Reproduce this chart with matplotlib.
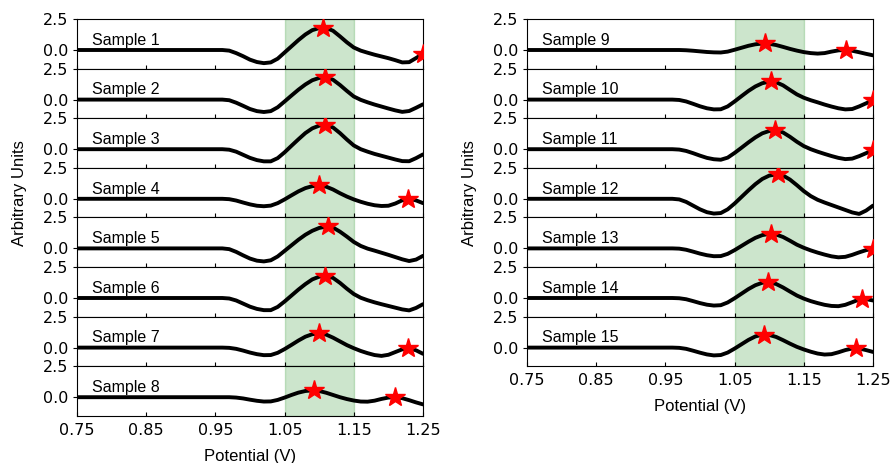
import numpy as np
import matplotlib.pyplot as plt

# potential grid (V)
potential = [0.75, 0.95, 0.96, 0.97, 0.98, 0.99, 1.00, 1.01, 1.02, 1.03, 1.04,
             1.05, 1.06, 1.07, 1.08, 1.09, 1.10, 1.11, 1.12, 1.13, 1.14,
             1.15, 1.16, 1.17, 1.18, 1.19, 1.20, 1.21, 1.22, 1.23, 1.24, 1.25]

s1 = [0, 0, 0, -0.05, -0.25, -0.5, -0.78, -0.97, -1.06, -1.0, -0.7, -0.2, 0.3, 0.8, 1.25, 1.6, 1.77, 1.78, 1.55, 1.1, 0.62,
      0.2, -0.05, -0.22, -0.38, -0.52, -0.66, -0.82, -1.0, -0.98, -0.65, -0.3]
s2 = [0, 0, 0, -0.05, -0.25, -0.5, -0.76, -0.93, -1.0, -0.93, -0.62, -0.15, 0.33, 0.8, 1.22, 1.56, 1.75, 1.79, 1.6, 1.18, 0.7,
      0.25, -0.02, -0.22, -0.4, -0.56, -0.72, -0.87, -0.99, -0.92, -0.66, -0.38]
s3 = [0, 0, 0, -0.04, -0.2, -0.45, -0.7, -0.88, -0.98, -0.98, -0.72, -0.25, 0.28, 0.8, 1.3, 1.68, 1.9, 1.95, 1.75, 1.3, 0.78,
      0.3, 0.0, -0.2, -0.38, -0.53, -0.68, -0.83, -0.96, -0.97, -0.72, -0.42]
s4 = [0, 0, 0, -0.03, -0.14, -0.3, -0.45, -0.56, -0.6, -0.55, -0.35, -0.05, 0.28, 0.6, 0.86, 1.02, 1.07, 0.98, 0.75, 0.45, 0.18,
      -0.05, -0.24, -0.4, -0.52, -0.58, -0.56, -0.38, -0.12, 0.0, -0.13, -0.35]
s5 = [0, 0, 0, -0.06, -0.28, -0.56, -0.82, -0.99, -1.05, -0.96, -0.65, -0.2, 0.25, 0.7, 1.1, 1.42, 1.65, 1.76, 1.68, 1.35, 0.95,
      0.52, 0.2, -0.02, -0.18, -0.35, -0.52, -0.7, -0.88, -1.02, -0.9, -0.6]
s6 = [0, 0, 0, -0.04, -0.2, -0.45, -0.7, -0.88, -0.98, -0.98, -0.72, -0.28, 0.2, 0.68, 1.12, 1.5, 1.72, 1.79, 1.62, 1.22, 0.75,
      0.32, 0.02, -0.18, -0.35, -0.5, -0.64, -0.78, -0.92, -1.0, -0.8, -0.5]
s7 = [0, 0, 0, -0.02, -0.1, -0.24, -0.4, -0.53, -0.61, -0.6, -0.42, -0.12, 0.22, 0.57, 0.88, 1.08, 1.15, 1.05, 0.8, 0.5, 0.2,
      -0.05, -0.27, -0.45, -0.6, -0.67, -0.58, -0.36, -0.14, -0.05, -0.22, -0.5]
s8 = [0, 0, 0, 0, -0.03, -0.1, -0.2, -0.29, -0.35, -0.34, -0.22, -0.03, 0.18, 0.37, 0.5, 0.55, 0.5, 0.36, 0.18, 0.0, -0.15,
      -0.27, -0.35, -0.36, -0.28, -0.14, -0.03, 0.0, -0.08, -0.24, -0.42, -0.58]
s9 = [0, 0, 0, 0, -0.02, -0.06, -0.11, -0.16, -0.19, -0.2, -0.13, 0.02, 0.18, 0.34, 0.46, 0.52, 0.5, 0.4, 0.25, 0.09, -0.05,
      -0.17, -0.25, -0.29, -0.25, -0.13, -0.03, 0.0, -0.06, -0.18, -0.31, -0.43]
s10 = [0, 0, 0, -0.03, -0.15, -0.34, -0.54, -0.7, -0.79, -0.78, -0.55, -0.15, 0.28, 0.7, 1.06, 1.32, 1.45, 1.4, 1.15, 0.78, 0.42,
       0.15, -0.05, -0.22, -0.4, -0.56, -0.7, -0.79, -0.76, -0.55, -0.3, -0.05]
s11 = [0, 0, 0, -0.03, -0.14, -0.32, -0.52, -0.7, -0.81, -0.85, -0.68, -0.3, 0.12, 0.55, 0.95, 1.28, 1.47, 1.52, 1.35, 1.0, 0.6,
       0.25, 0.0, -0.2, -0.38, -0.55, -0.7, -0.8, -0.76, -0.56, -0.32, -0.08]
s12 = [0, 0, 0, -0.05, -0.25, -0.55, -0.85, -1.08, -1.19, -1.15, -0.85, -0.38, 0.15, 0.68, 1.18, 1.6, 1.87, 1.97, 1.88, 1.55, 1.1,
       0.62, 0.22, -0.08, -0.3, -0.5, -0.7, -0.9, -1.1, -1.22, -0.95, -0.55]
s13 = [0, 0, 0, -0.02, -0.11, -0.26, -0.42, -0.55, -0.63, -0.62, -0.44, -0.14, 0.2, 0.54, 0.85, 1.07, 1.17, 1.12, 0.92, 0.62, 0.3,
       0.05, -0.16, -0.34, -0.5, -0.64, -0.72, -0.68, -0.52, -0.32, -0.14, -0.03]
s14 = [0, 0, 0, -0.02, -0.1, -0.25, -0.41, -0.54, -0.61, -0.58, -0.36, -0.02, 0.35, 0.72, 1.03, 1.23, 1.27, 1.13, 0.85, 0.52, 0.2,
       -0.05, -0.25, -0.41, -0.55, -0.64, -0.66, -0.55, -0.34, -0.12, -0.09, -0.2]
s15 = [0, 0, 0, -0.02, -0.1, -0.25, -0.41, -0.55, -0.63, -0.6, -0.4, -0.08, 0.27, 0.62, 0.9, 1.04, 1.02, 0.86, 0.6, 0.32, 0.06,
       -0.15, -0.33, -0.48, -0.56, -0.53, -0.38, -0.2, -0.07, -0.07, -0.2, -0.35]

signals = [s1, s2, s3, s4, s5, s6, s7, s8, s9, s10, s11, s12, s13, s14, s15]
labels = ['Sample %d' % (i + 1) for i in range(15)]

# detected peaks (red stars)
star_x = [[1.106, 1.25], [1.108], [1.108], [1.099, 1.229], [1.112], [1.108], [1.099, 1.229], [1.092, 1.21],
          [1.094, 1.211], [1.103, 1.25], [1.108, 1.25], [1.112], [1.102, 1.25], [1.098, 1.234], [1.092, 1.226]]
star_y = [[1.8, -0.3], [1.8], [1.96], [1.08, 0.0], [1.77], [1.8], [1.15, -0.05], [0.56, 0.0],
          [0.53, 0.0], [1.46, -0.05], [1.53, -0.08], [1.98], [1.17, -0.03], [1.28, -0.09], [1.05, -0.06]]

window = (1.05, 1.15)
xticks = [0.75, 0.85, 0.95, 1.05, 1.15, 1.25]

fig = plt.figure(figsize=(8.94, 4.63), dpi=100)
W, H = 894.0, 463.0
panel_h = 49.6 / H
columns = [(77 / W, 346 / W, range(0, 8)), (527 / W, 346 / W, range(8, 15))]
top = 1 - 19 / H

for left, width, idx in columns:
    n = len(idx)
    for k, i in enumerate(idx):
        ax = fig.add_axes([left, top - (k + 1) * panel_h, width, panel_h])
        ax.axvspan(window[0], window[1], facecolor='green', edgecolor='green', alpha=0.2, lw=1)
        ax.plot(potential, signals[i], color='black', lw=2.8, solid_capstyle='round',
                solid_joinstyle='round', zorder=3)
        ax.plot(star_x[i], star_y[i], ls='none', marker='*', color='red', ms=15, zorder=4)
        ax.text(0.772, 0.42, labels[i], fontsize=11.5, family='Liberation Sans', va='baseline')
        ax.set_xlim(0.75, 1.25)
        ax.set_ylim(-1.5, 2.5)
        ax.set_yticks([0.0, 2.5])
        ax.set_yticklabels(['0.0', '2.5'])
        ax.set_xticks(xticks)
        ax.tick_params(axis='x', direction='in', length=3)
        ax.tick_params(axis='y', direction='out', length=3)
        ax.tick_params(labelsize=11.5)
        if k == n - 1:
            ax.set_xticklabels(['%.2f' % t for t in xticks])
            ax.tick_params(axis='x', pad=5)
            ax.set_xlabel('Potential (V)', fontsize=12, family='Liberation Sans', labelpad=8)
        else:
            ax.set_xticklabels([])
        if k == 3:
            ax.set_ylabel('Arbitrary Units', fontsize=12, family='Liberation Sans', labelpad=11)

plt.savefig('out.png', dpi=100)
